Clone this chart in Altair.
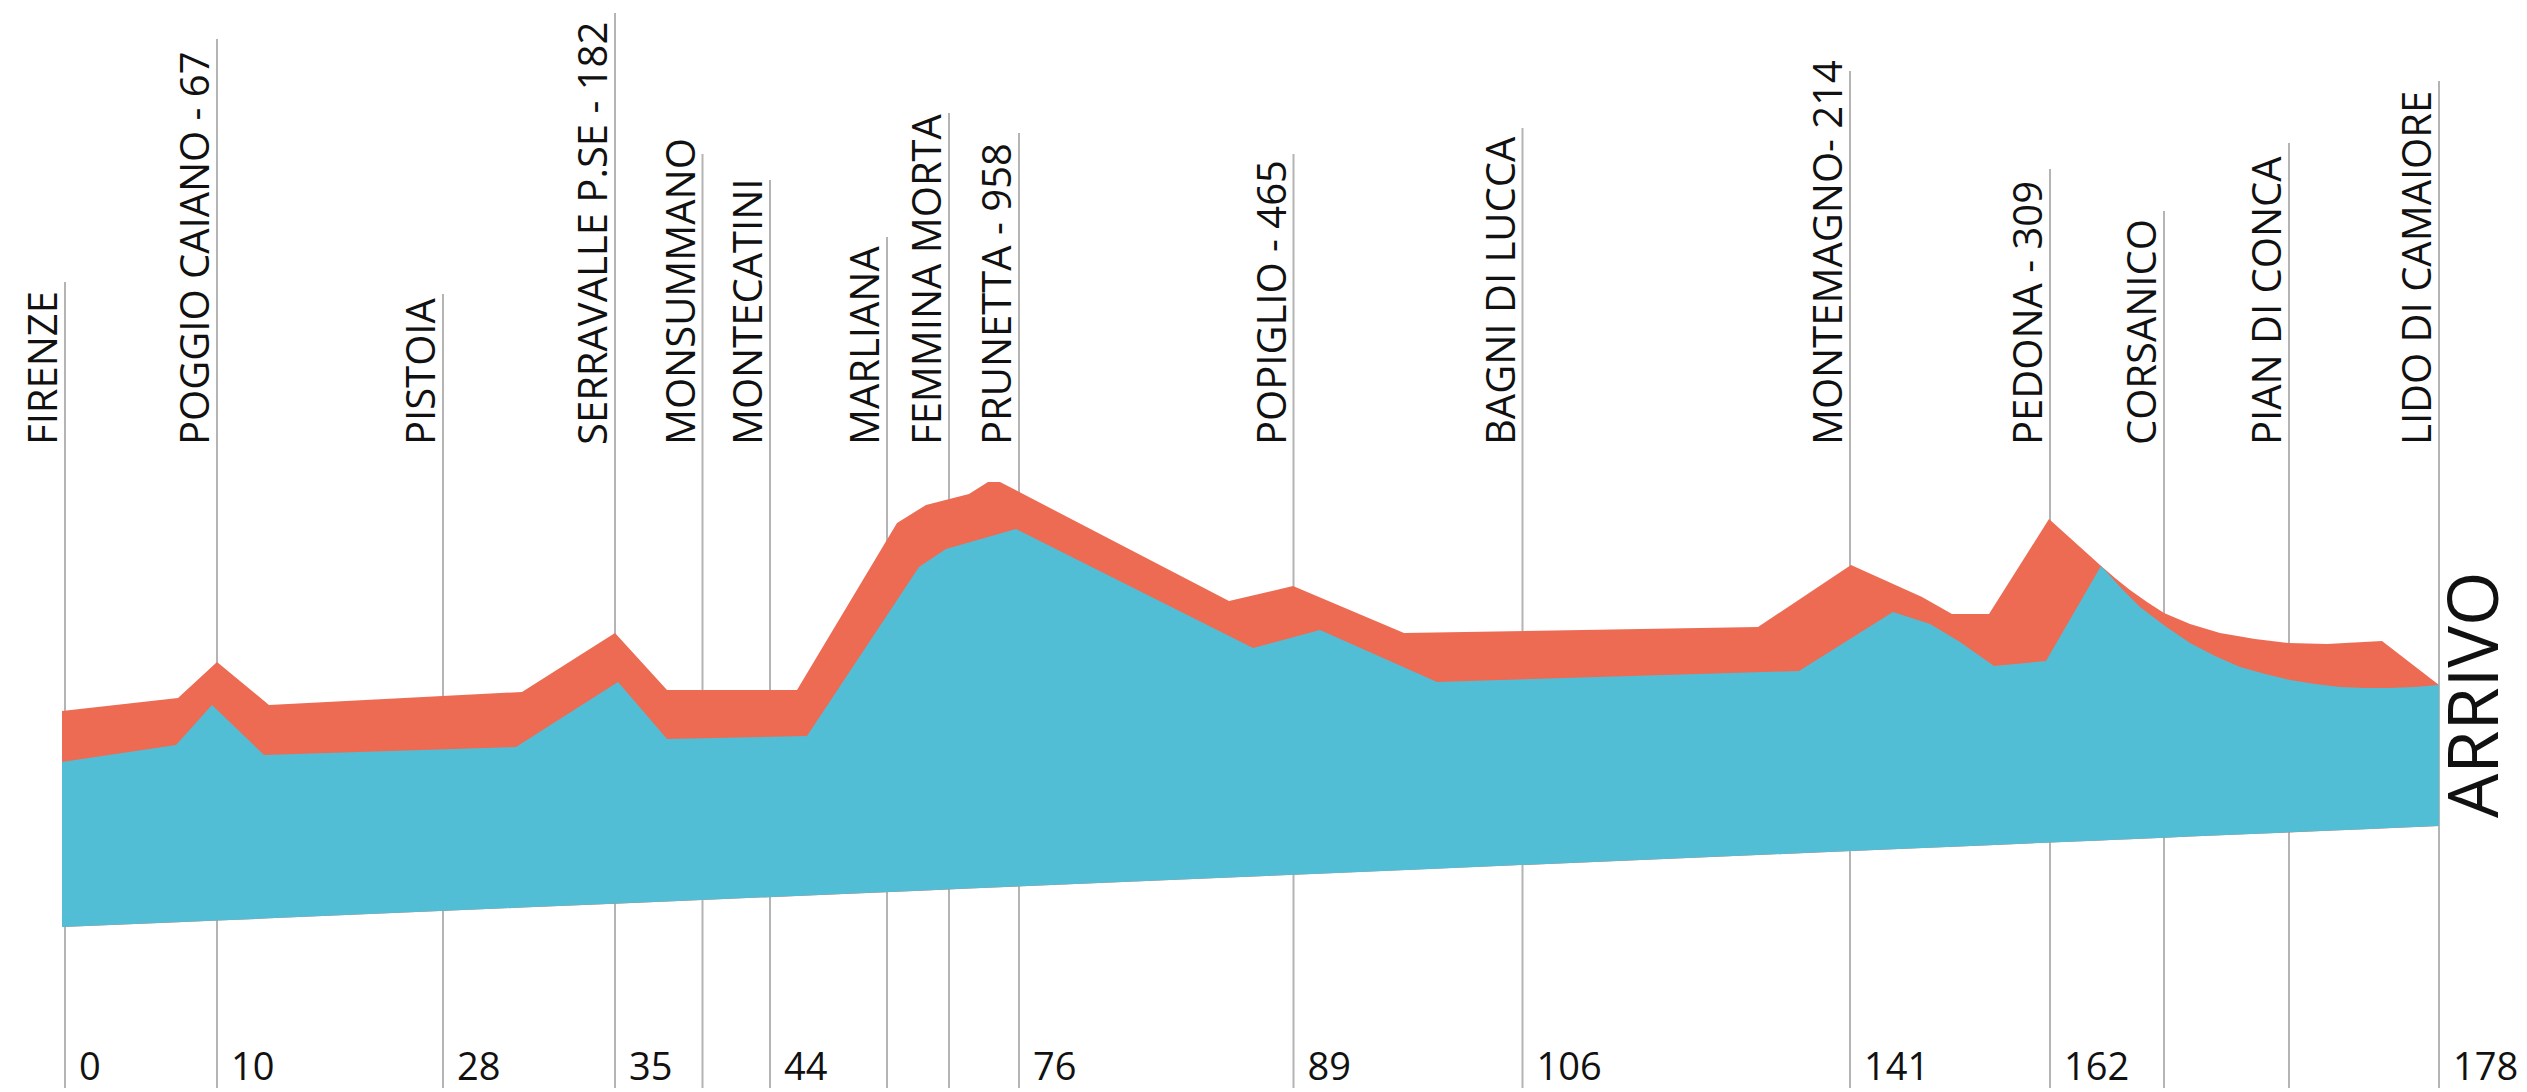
import altair as alt
import pandas as pd
import numpy as np

# ---- profile data (position along the drawing, relative height) ----
red_pos = [62, 178, 217, 269, 522, 615, 667, 797, 897, 926, 969, 988, 1000, 1229, 1293,
           1404, 1758, 1851, 1922, 1952, 1989, 2049, 2100, 2115, 2130, 2147, 2164, 2190,
           2220, 2255, 2289, 2327, 2382, 2439]
red_quota = [381, 394, 430, 387, 400, 459, 402, 402, 569, 587, 598, 610, 610, 491, 506,
             459, 465, 527, 495, 478, 478, 573, 527, 514, 502, 490, 479, 468,
             459, 453, 449, 448, 451, 407]

blue_pos = [62, 176, 212, 264, 516, 618, 667, 807, 919, 946, 1016, 1253, 1320, 1437, 1799,
            1893, 1930, 1960, 1994, 2046, 2101, 2112, 2123, 2140, 2165, 2190, 2215, 2240,
            2265, 2290, 2315, 2340, 2365, 2390, 2415, 2439]
blue_quota = [330, 347, 387, 337, 345, 410, 353, 356, 525, 543, 563, 444, 462, 410, 421,
              480, 468, 450, 426, 431, 526, 514, 502, 485, 466, 449, 436, 425,
              418, 412, 408, 405, 404, 404, 405, 407]

base_pos = [66, 2439]
base_quota = [165, 266]

# ---- places ----
places = ["FIRENZE", "POGGIO CAIANO - 67", "PISTOIA", "SERRAVALLE P.SE - 182", "MONSUMMANO",
          "MONTECATINI", "MARLIANA", "FEMMINA MORTA", "PRUNETTA - 958", "POPIGLIO - 465",
          "BAGNI DI LUCCA", "MONTEMAGNO- 214", "PEDONA - 309", "CORSANICO", "PIAN DI CONCA",
          "LIDO DI CAMAIORE"]
place_pos = [65, 217, 443, 615, 702.5, 770, 887, 949, 1019, 1293.5, 1522.5, 1850, 2050,
             2164, 2289, 2439]
place_top = [810, 1053, 798, 1079, 938, 912, 855, 979, 959, 938, 964, 1021, 923, 881, 949, 1011]

km_pos = [65, 217, 443, 615, 770, 1019, 1293.5, 1522.5, 1850, 2050, 2439]
km_labels = ["0", "10", "28", "35", "44", "76", "89", "106", "141", "162", "178"]

RED = "#ED6B53"
BLUE = "#52BED6"
GREY = "#b4b4b4"
FONT = "Open Sans"

red_df = pd.DataFrame({"pos": red_pos, "quota": red_quota})
red_df["base"] = np.interp(red_df["pos"], base_pos, base_quota)
blue_df = pd.DataFrame({"pos": blue_pos, "quota": blue_quota})
blue_df["base"] = np.interp(blue_df["pos"], base_pos, base_quota)
place_df = pd.DataFrame({"name": places, "pos": place_pos, "top": place_top})
km_df = pd.DataFrame({"km": km_labels, "pos": km_pos})

xs = alt.Scale(domain=[8, 2519], nice=False, zero=False)
ys = alt.Scale(domain=[0, 1084], nice=False, zero=False)

lines = alt.Chart(place_df).transform_calculate(bottom="4").mark_rule(
    color=GREY, strokeWidth=2
).encode(
    x=alt.X("pos:Q", scale=xs, axis=None),
    y=alt.Y("top:Q", scale=ys, axis=None),
    y2="bottom:Q",
)

red_area = alt.Chart(red_df).mark_area(color=RED, interpolate="linear").encode(
    x=alt.X("pos:Q", scale=xs, axis=None),
    y=alt.Y("quota:Q", scale=ys, axis=None),
    y2="base:Q",
)

blue_area = alt.Chart(blue_df).mark_area(color=BLUE, interpolate="linear").encode(
    x=alt.X("pos:Q", scale=xs, axis=None),
    y=alt.Y("quota:Q", scale=ys, axis=None),
    y2="base:Q",
)

labels = alt.Chart(place_df).transform_calculate(
    tx="datum.pos - 8", ty="647"
).mark_text(
    angle=270, align="left", baseline="alphabetic", font=FONT, fontSize=40,
    fontWeight=400, color="#111111"
).encode(
    x=alt.X("tx:Q", scale=xs, axis=None),
    y=alt.Y("ty:Q", scale=ys, axis=None),
    text="name:N",
)

kms = alt.Chart(km_df).transform_calculate(
    tx="datum.pos + 14", ty="12"
).mark_text(
    align="left", baseline="alphabetic", font=FONT, fontSize=38, fontWeight=400,
    color="#111111"
).encode(
    x=alt.X("tx:Q", scale=xs, axis=None),
    y=alt.Y("ty:Q", scale=ys, axis=None),
    text="km:N",
)

arrivo = alt.Chart(pd.DataFrame({"t": ["ARRIVO"]})).mark_text(
    angle=270, align="left", baseline="alphabetic", font=FONT, fontSize=70,
    fontWeight=400, color="#111111"
).encode(
    x=alt.value(2490),
    y=alt.value(810),
    text="t:N",
)

chart = alt.layer(lines, red_area, blue_area, labels, kms, arrivo).properties(
    width=2511, height=1084,
    autosize=alt.AutoSizeParams(type="none"),
    padding=0,
    background="white",
).configure_view(stroke=None)

chart.save("out.html", embed_options={"renderer": "svg", "actions": False})
